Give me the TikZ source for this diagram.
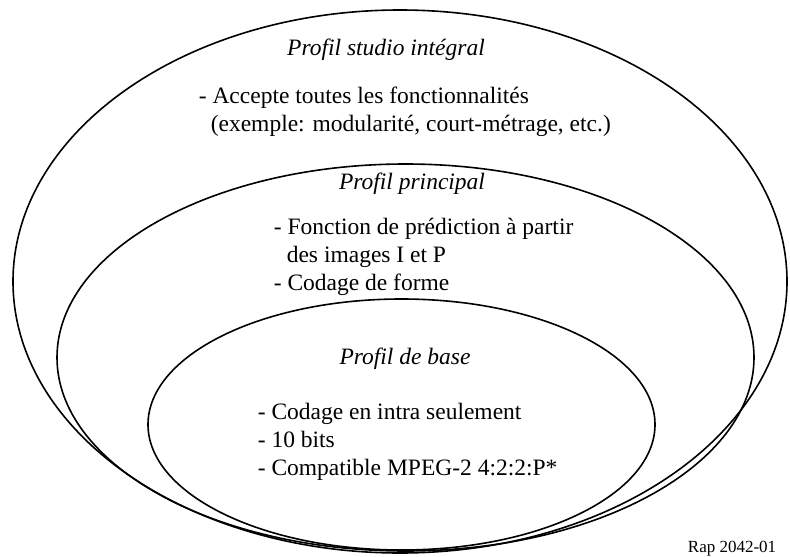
\documentclass[tikz,border=0pt]{standalone}
\usepackage{fontspec}
\setmainfont{Liberation Serif}
\usetikzlibrary{shapes,positioning}

\begin{document}
\begin{tikzpicture}[x=1pt, y=-1pt, line width=1.6pt,
        profil/.style={ellipse, draw, inner sep=0pt},
        titre/.style={font=\fontsize{23.5}{28}\selectfont\itshape},
        liste/.style={align=left, anchor=west, inner sep=0pt, font=\fontsize{23.5}{28}\selectfont}]
        \useasboundingbox (0,0) rectangle (790,557);

        % nested profiles
        \node[profil, minimum width=774pt, minimum height=543pt] (studio) at (400,281.5) {};
        \node[profil, minimum width=697pt, minimum height=387pt] (principal) at (405.5,357.5) {};
        \node[profil, minimum width=507pt, minimum height=251pt] (base) at (401.5,424.5) {};

        \node[titre] (studiotitre) at (386,50) {Profil studio intégral};
        \node[liste] (studioliste) at (198,111.5) {- Accepte toutes les fonctionnalités \\ \hspace*{12pt}(exemple: modularité, court-métrage, etc.)};

        \node[titre] (principaltitre) at (412,184) {Profil principal};
        \node[liste] (principalliste) at (273,257) {- Fonction de prédiction à partir \\ \hspace*{13pt}des images I et P \\ - Codage de forme};

        \node[titre] (basetitre) at (405,359) {Profil de base};
        \node[liste] (baseliste) at (257,442) {- Codage en intra seulement \\ - 10 bits \\ - Compatible MPEG-2 4:2:2:P*};

        \node[anchor=base east, inner sep=0pt, font=\fontsize{17}{20}\selectfont] (rap) at (777,552) {Rap 2042-01};
    \end{tikzpicture}
\end{document}
